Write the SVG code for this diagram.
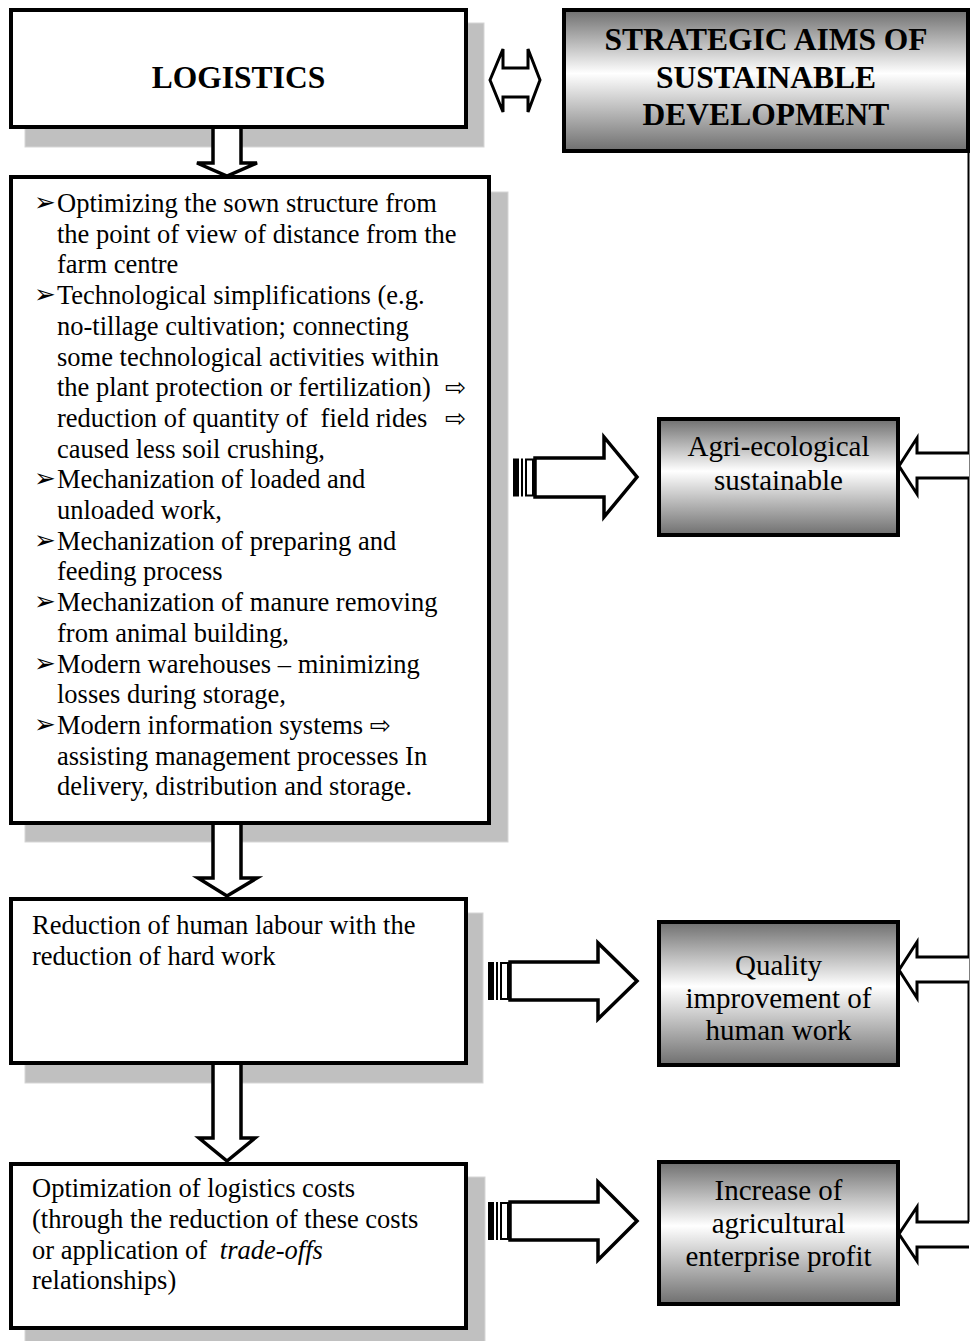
<svg xmlns="http://www.w3.org/2000/svg" width="970" height="1341" viewBox="0 0 970 1341">
  <defs>
    <linearGradient id="metal" x1="0" y1="0" x2="0" y2="1">
      <stop offset="0" stop-color="#6f6f6f"/>
      <stop offset="0.45" stop-color="#ffffff"/>
      <stop offset="1" stop-color="#6f6f6f"/>
    </linearGradient>
    <!-- stripe block at the tail of the fat right arrows -->
    <g id="stripes">
      <rect x="0" y="0" width="6" height="38" fill="#000"/>
      <rect x="8" y="0" width="2" height="38" fill="#000"/>
      <rect x="13" y="1" width="7" height="36" fill="#fff" stroke="#000" stroke-width="2"/>
    </g>
  </defs>
  <style>
    .shadow { fill: #c0c0c0; stroke: #d6d6d6; stroke-width: 1; }
    .box { fill: #fff; stroke: #000; stroke-width: 4; }
    .aim { fill: url(#metal); stroke: #000; stroke-width: 4; }
    .arrow { fill: #fff; stroke: #000; stroke-width: 3.5; stroke-linejoin: miter; }
    .inarrow { fill: #fff; stroke: #000; stroke-width: 3; stroke-linejoin: miter; }
    .title { font-family: "Liberation Serif", "Times New Roman", serif; font-weight: bold; font-size: 31.5px; fill: #000; }
    .body { font-family: "Liberation Serif", "Times New Roman", serif; font-size: 26.5px; fill: #000; }
    .aimtxt { font-family: "Liberation Serif", "Times New Roman", serif; font-size: 29px; fill: #000; }
    .bul { font-family: "DejaVu Sans", sans-serif; font-size: 26px; }
    .sym { font-family: "DejaVu Sans", sans-serif; font-size: 25px; }
  </style>

  <rect width="970" height="1341" fill="#fff"/>

  <!-- LOGISTICS -->
  <g id="logistics">
    <rect class="shadow" x="25" y="23" width="459" height="124"/>
    <rect class="box" x="11" y="10" width="455" height="117"/>
    <text class="title" x="238.5" y="88" text-anchor="middle">LOGISTICS</text>
  </g>

  <!-- STRATEGIC AIMS -->
  <g id="strategic-aims">
    <rect class="aim" x="564" y="10" width="404" height="141"/>
    <text class="title" x="766" y="50" text-anchor="middle">STRATEGIC AIMS OF</text>
    <text class="title" x="766" y="88" text-anchor="middle">SUSTAINABLE</text>
    <text class="title" x="766" y="125" text-anchor="middle">DEVELOPMENT</text>
  </g>

  <!-- logistics activities -->
  <g id="activities">
    <rect class="shadow" x="25" y="192" width="483" height="650"/>
    <rect class="box" x="11" y="177" width="478" height="646"/>
    <g class="body">
      <text x="34" y="211"><tspan class="bul">➢</tspan><tspan x="57" y="212">Optimizing the sown structure from</tspan></text>
      <text x="57" y="242.7">the point of view of distance from the</text>
      <text x="57" y="273.4">farm centre</text>
      <text x="34" y="303.1"><tspan class="bul">➢</tspan><tspan x="57" y="304.1">Technological simplifications (e.g.</tspan></text>
      <text x="57" y="334.8">no-tillage cultivation; connecting</text>
      <text x="57" y="365.5">some technological activities within</text>
      <text x="57" y="396.2">the plant protection or fertilization) <tspan class="sym" x="445">⇨</tspan></text>
      <text x="57" y="426.9">reduction of quantity of <tspan dx="6">field rides</tspan> <tspan class="sym" x="445">⇨</tspan></text>
      <text x="57" y="457.6">caused less soil crushing,</text>
      <text x="34" y="487.3"><tspan class="bul">➢</tspan><tspan x="57" y="488.3">Mechanization of loaded and</tspan></text>
      <text x="57" y="519">unloaded work,</text>
      <text x="34" y="548.7"><tspan class="bul">➢</tspan><tspan x="57" y="549.7">Mechanization of preparing and</tspan></text>
      <text x="57" y="580.4">feeding process</text>
      <text x="34" y="610.1"><tspan class="bul">➢</tspan><tspan x="57" y="611.1">Mechanization of manure removing</tspan></text>
      <text x="57" y="641.8">from animal building,</text>
      <text x="34" y="671.5"><tspan class="bul">➢</tspan><tspan x="57" y="672.5">Modern warehouses – minimizing</tspan></text>
      <text x="57" y="703.2">losses during storage,</text>
      <text x="34" y="732.9"><tspan class="bul">➢</tspan><tspan x="57" y="733.9">Modern information systems </tspan><tspan class="sym">⇨</tspan></text>
      <text x="57" y="764.6">assisting management processes In</text>
      <text x="57" y="795.3">delivery, distribution and storage.</text>
    </g>
  </g>

  <!-- labour reduction -->
  <g id="labour">
    <rect class="shadow" x="25" y="913" width="458" height="170"/>
    <rect class="box" x="11" y="899" width="455" height="164"/>
    <text class="body" x="32" y="934">Reduction of human labour with the</text>
    <text class="body" x="32" y="965">reduction of hard work</text>
  </g>

  <!-- cost optimization -->
  <g id="costs">
    <rect class="shadow" x="25" y="1177" width="460" height="170"/>
    <rect class="box" x="11" y="1164" width="455" height="164"/>
    <text class="body" x="32" y="1197">Optimization of logistics costs</text>
    <text class="body" x="32" y="1228">(through the reduction of these costs</text>
    <text class="body" x="32" y="1258.5">or application of <tspan dx="6" font-style="italic">trade-offs</tspan></text>
    <text class="body" x="32" y="1289">relationships)</text>
  </g>

  <!-- aims -->
  <g id="agri-ecological">
    <rect class="aim" x="659" y="419" width="239" height="116"/>
    <text class="aimtxt" x="778.5" y="456" text-anchor="middle">Agri-ecological</text>
    <text class="aimtxt" x="778.5" y="490" text-anchor="middle">sustainable</text>
  </g>
  <g id="quality">
    <rect class="aim" x="659" y="922" width="239" height="143"/>
    <text class="aimtxt" x="778.5" y="975" text-anchor="middle">Quality</text>
    <text class="aimtxt" x="778.5" y="1007.5" text-anchor="middle">improvement of</text>
    <text class="aimtxt" x="778.5" y="1040" text-anchor="middle">human work</text>
  </g>
  <g id="profit">
    <rect class="aim" x="659" y="1162" width="239" height="142"/>
    <text class="aimtxt" x="778.5" y="1200" text-anchor="middle">Increase of</text>
    <text class="aimtxt" x="778.5" y="1233" text-anchor="middle">agricultural</text>
    <text class="aimtxt" x="778.5" y="1265.5" text-anchor="middle">enterprise profit</text>
  </g>

  <!-- connectors -->
  <g id="connectors">
    <!-- two-way link between logistics and the aims -->
    <polygon class="inarrow" points="490,80 503,49 503,68 528,68 528,49 540,80 528,112 528,97 503,97 503,112"/>

    <!-- downward flow -->
    <path class="arrow" d="M213,129 V163 H197 L227,176 L257,163 H241 V129"/>
    <path class="arrow" d="M213,825 V878 H198 L227,896 L257,878 H241 V825"/>
    <path class="arrow" d="M213,1065 V1138 H199 L227,1161 L255,1138 H241 V1065"/>

    <!-- logistics effects to aims -->
    <use href="#stripes" x="513" y="458.5"/>
    <path class="arrow" d="M535,458 H604 V437 L637,477 L604,517 V497 H535 Z"/>
    <use href="#stripes" x="488" y="962"/>
    <path class="arrow" d="M510,962 H598 V943 L637,981 L598,1019 V1000 H510 Z"/>
    <use href="#stripes" x="488" y="1202"/>
    <path class="arrow" d="M510,1202 H598 V1182 L637,1221 L598,1260 V1240 H510 Z"/>

    <!-- strategic aims feeding each goal -->
    <path d="M968.5,151 V1222" fill="none" stroke="#000" stroke-width="2"/>
    <path class="inarrow" d="M969,453 H917 V438 L899,466 L917,494 V478 H969"/>
    <path class="inarrow" d="M969,957 H917 V942 L899,970 L917,998 V982 H969"/>
    <path class="inarrow" d="M969,1222 H917 V1207 L899,1234 L917,1261 V1247 H969"/>
  </g>
</svg>
